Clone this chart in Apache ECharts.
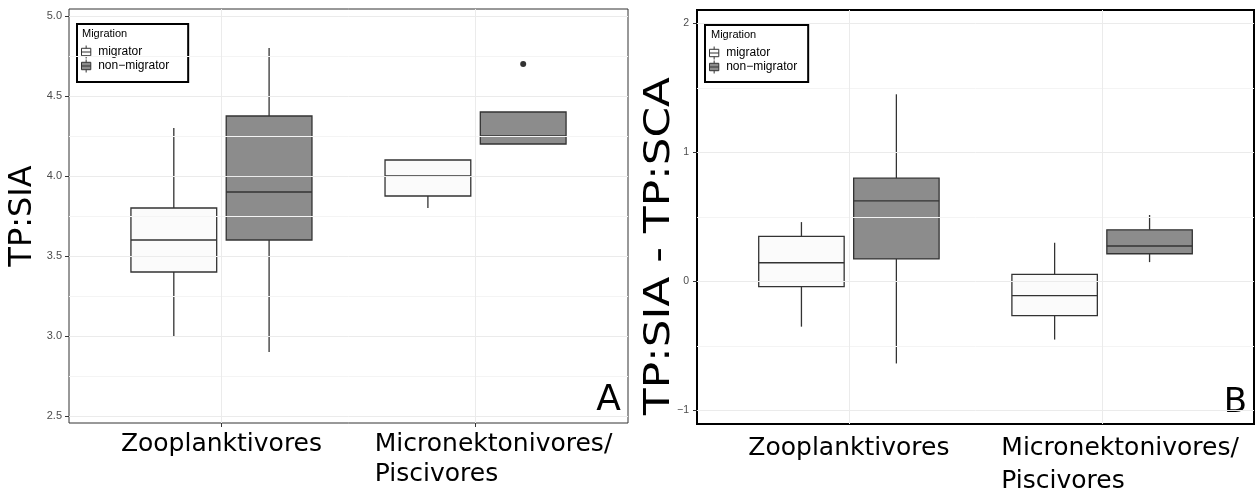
<!DOCTYPE html>
<html>
<head>
<meta charset="utf-8">
<script src="https://cdn.jsdelivr.net/npm/echarts@6/dist/echarts.min.js"></script>
<style>
html,body{margin:0;padding:0;background:#fff;}
#chart{width:1255px;height:491px;}
</style>
</head>
<body>
<div id="chart"></div>
<script>
// ---------- data ----------
const categories = ['Zooplanktivores', 'Micronektonivores/\nPiscivores'];
const groupNames = ['migrator', 'non\u2212migrator'];

// [lower whisker, Q1, median, Q3, upper whisker], one row per category
const statsA_migrator    = [[3.00, 3.40, 3.60, 3.80, 4.30], [3.80, 3.875, 4.00, 4.10, 4.10]];
const statsA_nonMigrator = [[2.90, 3.60, 3.90, 4.375, 4.80], [4.20, 4.20, 4.25, 4.40, 4.40]];
const outliersA_nonMigrator = [[1, 4.70]]; // [category index, value]

const statsB_migrator    = [[-0.35, -0.04, 0.145, 0.35, 0.46], [-0.45, -0.265, -0.11, 0.055, 0.30]];
const statsB_nonMigrator = [[-0.635, 0.175, 0.625, 0.80, 1.45], [0.15, 0.215, 0.275, 0.40, 0.515]];
const outliersB_nonMigrator = [];

const ticksA = [2.5, 3.0, 3.5, 4.0, 4.5, 5.0];
const minorTicksA = [2.75, 3.25, 3.75, 4.25, 4.75];
const ticksB = [-1, 0, 1, 2];
const minorTicksB = [-0.5, 0.5, 1.5];
const catTicks = [1, 2];

// ---------- styling ----------
const LINE = '#333333';
const FILL_MIG = '#fbfbfb';
const FILL_NON = '#8c8c8c';
const DODGE = 0.1875;
const BOX_W = 0.3375;
const TXT = 'DejaVu Sans';
const SMALL = 'Liberation Sans';
const ICON = 'path://M5,0V3M0,3H10V11H0ZM0,7H10M5,11V14';

function boxRenderer(offset, fill) {
  return function (params, api) {
    const x = api.value(0) + offset;
    const lo = api.coord([x, api.value(1)]);
    const q1 = api.coord([x, api.value(2)]);
    const md = api.coord([x, api.value(3)]);
    const q3 = api.coord([x, api.value(4)]);
    const hi = api.coord([x, api.value(5)]);
    const xl = api.coord([x - BOX_W / 2, api.value(3)])[0];
    const xr = api.coord([x + BOX_W / 2, api.value(3)])[0];
    const st = {stroke: LINE, lineWidth: 1.3, fill: null};
    return {
      type: 'group',
      children: [
        {type: 'line', shape: {x1: lo[0], y1: lo[1], x2: q1[0], y2: q1[1]}, style: st},
        {type: 'line', shape: {x1: q3[0], y1: q3[1], x2: hi[0], y2: hi[1]}, style: st},
        {type: 'rect', shape: {x: xl, y: q3[1], width: xr - xl, height: q1[1] - q3[1]},
          style: {fill: fill, stroke: LINE, lineWidth: 1.3}},
        {type: 'line', shape: {x1: xl, y1: md[1], x2: xr, y2: md[1]}, style: st}
      ]
    };
  };
}

function toData(stats) {
  return stats.map((s, i) => [i + 1].concat(s));
}

function gridSeries(idx, major, minor) {
  const lines = [];
  minor.forEach(v => lines.push({yAxis: v, lineStyle: {color: '#f4f4f4', width: 1}}));
  major.forEach(v => lines.push({yAxis: v, lineStyle: {color: '#ebebeb', width: 1}}));
  catTicks.forEach(v => lines.push({xAxis: v, lineStyle: {color: '#ebebeb', width: 1}}));
  return {
    type: 'line', xAxisIndex: idx, yAxisIndex: idx, data: [], z: 1, silent: true,
    markLine: {silent: true, symbol: ['none', 'none'], label: {show: false},
      lineStyle: {type: 'solid'}, animation: false, data: lines}
  };
}

function xLabelFormatter(v) {
  const name = categories[Math.round(v) - 1];
  if (!name) return '';
  if (name.indexOf('\n') >= 0) {
    return name.split('\n').map(s => '{l|' + s + '}').join('\n');
  }
  return name;
}

function xAxisCfg(idx, margin, lh) {
  return {
    type: 'value', gridIndex: idx, min: 0.4, max: 2.6,
    axisLine: {show: false},
    splitLine: {show: false},
    axisTick: {show: true, customValues: catTicks, length: 4, lineStyle: {color: LINE, width: 1}},
    axisLabel: {
      customValues: catTicks, formatter: xLabelFormatter, margin: margin, hideOverlap: false,
      fontFamily: TXT, fontSize: 25, color: '#000', lineHeight: lh,
      rich: {l: {fontFamily: TXT, fontSize: 25, color: '#000', align: 'left', lineHeight: lh, padding: [0, 0, 0, 36]}}
    }
  };
}

function yAxisCfg(idx, min, max, ticks, fmt, margin, fs) {
  return {
    type: 'value', gridIndex: idx, min: min, max: max,
    axisLine: {show: false},
    splitLine: {show: false},
    axisTick: {show: true, customValues: ticks, length: 4, lineStyle: {color: LINE, width: 1}},
    axisLabel: {customValues: ticks, formatter: fmt, margin: margin, fontFamily: SMALL, fontSize: fs, color: '#4d4d4d'}
  };
}

function legendCfg(left, top, padding, groupFills) {
  return {
    orient: 'vertical', left: left, top: top, padding: padding,
    itemWidth: 14, itemHeight: 13, itemGap: 0,
    borderColor: '#000', borderWidth: 2, backgroundColor: '#fff',
    selectedMode: false,
    textStyle: {fontFamily: SMALL, fontSize: 12, color: '#000'},
    data: groupNames.map((n, i) => ({name: n, icon: ICON,
      itemStyle: {color: groupFills[i], borderColor: LINE, borderWidth: 1}}))
  };
}

const chart = echarts.init(document.getElementById('chart'), null, {renderer: 'canvas'});

const option = {
  animation: false,
  backgroundColor: '#fff',
  grid: [
    {left: 69, top: 9, width: 559, height: 414, show: true, borderColor: '#333', borderWidth: 1,
      backgroundColor: 'transparent', containLabel: false, outerBoundsMode: 'none'},
    {left: 697, top: 10, width: 557, height: 414, show: true, borderColor: '#000', borderWidth: 2,
      backgroundColor: 'transparent', containLabel: false, outerBoundsMode: 'none'}
  ],
  xAxis: [xAxisCfg(0, 6, 30), xAxisCfg(1, 8, 33)],
  yAxis: [
    Object.assign(yAxisCfg(0, 2.456, 5.044, ticksA, v => v.toFixed(1), 7, 11), {
      name: 'TP:SIA', nameLocation: 'middle', nameGap: 30, nameRotate: 90,
      nameTextStyle: {fontFamily: TXT, fontSize: 32, color: '#000'}
    }),
    yAxisCfg(1, -1.104, 2.103, ticksB, v => String(v).replace('-', '\u2212'), 8, 10.5)
  ],
  legend: [
    legendCfg(77, 24, [21, 19, 9, 4], [FILL_MIG, FILL_NON]),
    legendCfg(705, 25, [21, 11, 8, 4], [FILL_MIG, FILL_NON])
  ],
  title: [
    {text: 'Migration', left: 82, top: 28, padding: 0, textStyle: {fontFamily: SMALL, fontSize: 11, fontWeight: 'normal', color: '#000'}},
    {text: 'Migration', left: 711, top: 29, padding: 0, textStyle: {fontFamily: SMALL, fontSize: 11, fontWeight: 'normal', color: '#000'}}
  ],
  graphic: [
    {type: 'text', x: 660, y: 246, rotation: Math.PI / 2, scaleX: 1.215, silent: true,
      style: {text: 'TP:SIA - TP:SCA', font: '36px "DejaVu Sans"', fill: '#000', textAlign: 'center', textVerticalAlign: 'middle'}},
    {type: 'text', x: 621, y: 401, silent: true,
      style: {text: 'A', font: '36px "DejaVu Sans"', fill: '#000', textAlign: 'right', textVerticalAlign: 'middle'}},
    {type: 'text', x: 1247, y: 403, silent: true,
      style: {text: 'B', font: '34px "DejaVu Sans"', fill: '#000', textAlign: 'right', textVerticalAlign: 'middle'}}
  ],
  series: [
    gridSeries(0, ticksA, minorTicksA),
    gridSeries(1, ticksB, minorTicksB),
    {type: 'custom', name: groupNames[0], xAxisIndex: 0, yAxisIndex: 0, z: 3,
      renderItem: boxRenderer(-DODGE, FILL_MIG), encode: {x: 0, y: [1, 2, 3, 4, 5]},
      itemStyle: {color: FILL_MIG}, data: toData(statsA_migrator)},
    {type: 'custom', name: groupNames[1], xAxisIndex: 0, yAxisIndex: 0, z: 3,
      renderItem: boxRenderer(DODGE, FILL_NON), encode: {x: 0, y: [1, 2, 3, 4, 5]},
      itemStyle: {color: FILL_NON}, data: toData(statsA_nonMigrator)},
    {type: 'scatter', name: groupNames[1], xAxisIndex: 0, yAxisIndex: 0, z: 4, symbolSize: 6,
      itemStyle: {color: '#000'}, data: outliersA_nonMigrator.map(o => [o[0] + 1 + DODGE, o[1]])},
    {type: 'custom', name: groupNames[0], xAxisIndex: 1, yAxisIndex: 1, z: 3,
      renderItem: boxRenderer(-DODGE, FILL_MIG), encode: {x: 0, y: [1, 2, 3, 4, 5]},
      itemStyle: {color: FILL_MIG}, data: toData(statsB_migrator)},
    {type: 'custom', name: groupNames[1], xAxisIndex: 1, yAxisIndex: 1, z: 3,
      renderItem: boxRenderer(DODGE, FILL_NON), encode: {x: 0, y: [1, 2, 3, 4, 5]},
      itemStyle: {color: FILL_NON}, data: toData(statsB_nonMigrator)},
    {type: 'scatter', name: groupNames[1], xAxisIndex: 1, yAxisIndex: 1, z: 4, symbolSize: 6,
      itemStyle: {color: '#000'}, data: outliersB_nonMigrator.map(o => [o[0] + 1 + DODGE, o[1]])}
  ]
};
chart.setOption(option);
</script>
</body>
</html>
